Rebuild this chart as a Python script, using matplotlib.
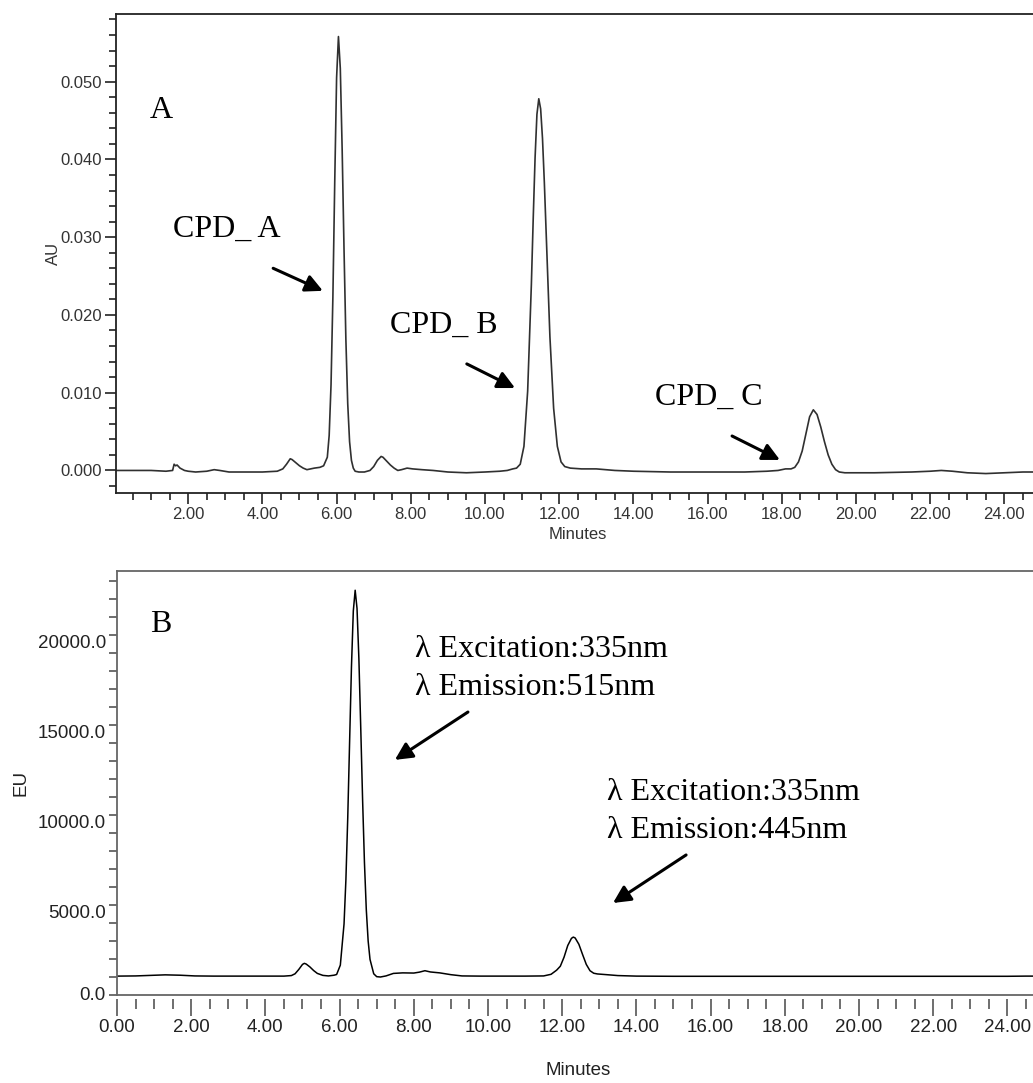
import matplotlib
matplotlib.use("Agg")
import matplotlib.pyplot as plt
from matplotlib.ticker import MultipleLocator, FormatStrFormatter

plt.rcParams["font.family"] = ["Liberation Sans", "DejaVu Sans"]

# --- panel A: UV trace (minutes, AU) ---
t_uv = [0.05, 0.5, 1.0, 1.4, 1.58, 1.62, 1.66, 1.7, 1.78, 1.9, 2.0, 2.2, 2.5, 2.7,
        2.85, 3.1, 3.5, 4.0, 4.4, 4.55, 4.65, 4.75, 4.8, 4.9, 5.0, 5.1, 5.2, 5.3,
        5.4, 5.55, 5.65, 5.75, 5.8, 5.85, 5.9, 5.95, 6.0, 6.05, 6.1, 6.15, 6.2,
        6.25, 6.3, 6.35, 6.4, 6.45, 6.5, 6.6, 6.75, 6.9, 7.0, 7.1, 7.2, 7.25,
        7.35, 7.45, 7.55, 7.65, 7.75, 7.9, 8.05, 8.3, 8.6, 9.0, 9.5, 10.0, 10.4,
        10.6, 10.75, 10.85, 10.95, 11.05, 11.15, 11.25, 11.3, 11.35, 11.4, 11.45,
        11.5, 11.55, 11.6, 11.65, 11.75, 11.85, 11.95, 12.05, 12.15, 12.3, 12.6,
        13.0, 13.5, 14.0, 15.0, 16.0, 17.0, 17.6, 17.9, 18.1, 18.25, 18.35,
        18.45, 18.55, 18.65, 18.75, 18.85, 18.95, 19.05, 19.15, 19.25, 19.35,
        19.45, 19.55, 19.7, 20.5, 21.5, 22.0, 22.3, 22.6, 23.0, 23.5, 24.0,
        24.5, 24.96]
au = [0.0000, 0.0000, 0.0000, -0.0001, 0.0000, 0.0008, 0.0006, 0.0007, 0.0003,
      0.0000, -0.0001, -0.0002, -0.0001, 0.0001, 0.0000, -0.0002, -0.0002,
      -0.0002, -0.0001, 0.0002, 0.0008, 0.0015, 0.0014, 0.0010, 0.0006, 0.0003,
      0.0001, 0.0002, 0.0003, 0.0004, 0.0006, 0.0017, 0.0045, 0.0110, 0.0223,
      0.0371, 0.0505, 0.0558, 0.0517, 0.0413, 0.0285, 0.0169, 0.0086, 0.0037,
      0.0013, 0.0003, -0.0001, -0.0002, -0.0002, 0.0000, 0.0005, 0.0013,
      0.0018, 0.0017, 0.0012, 0.0007, 0.0003, 0.0000, 0.0001, 0.0003, 0.0002,
      0.0001, 0.0000, -0.0002, -0.0003, -0.0002, -0.0001, 0.0000, 0.0002,
      0.0003, 0.0008, 0.0031, 0.0102, 0.0239, 0.0324, 0.0402, 0.0458, 0.0478,
      0.0465, 0.0427, 0.0370, 0.0304, 0.0172, 0.0080, 0.0031, 0.0011, 0.0005,
      0.0003, 0.0002, 0.0002, 0.0000, -0.0001, -0.0002, -0.0002, -0.0002,
      -0.0001, 0.0000, 0.0002, 0.0002, 0.0004, 0.0011, 0.0025, 0.0047, 0.0069,
      0.0078, 0.0072, 0.0056, 0.0037, 0.0020, 0.0008, 0.0001, -0.0002, -0.0003,
      -0.0003, -0.0002, -0.0001, 0.0000, -0.0001, -0.0003, -0.0004, -0.0003,
      -0.0002, -0.0002]

# --- panel B: fluorescence trace (minutes, EU) ---
t_fl = [0.0, 0.5, 0.9, 1.3, 1.7, 2.1, 2.6, 3.5, 4.5, 4.7, 4.8, 4.9, 5.0, 5.05,
        5.1, 5.2, 5.3, 5.4, 5.55, 5.7, 5.85, 5.92, 6.02, 6.12, 6.17, 6.22, 6.27,
        6.32, 6.37, 6.42, 6.47, 6.52, 6.57, 6.62, 6.67, 6.72, 6.77, 6.82, 6.92,
        7.0, 7.1, 7.25, 7.45, 7.7, 8.0, 8.15, 8.3, 8.45, 8.7, 9.0, 9.3, 9.8,
        11.0, 11.5, 11.7, 11.85, 11.95, 12.05, 12.15, 12.25, 12.3, 12.35, 12.45,
        12.55, 12.65, 12.75, 12.85, 12.95, 13.2, 13.5, 14.0, 15.0, 16.0, 20.0,
        24.0, 24.5, 24.88]
eu = [1050, 1060, 1090, 1120, 1100, 1060, 1050, 1050, 1050, 1080, 1180, 1420,
      1700, 1760, 1720, 1560, 1360, 1200, 1090, 1060, 1100, 1140, 1660, 3950,
      6400, 9870, 14070, 18240, 21350, 22500, 21490, 18700, 14880, 10870, 7370,
      4740, 3000, 1980, 1180, 1020, 1000, 1060, 1200, 1230, 1220, 1270, 1350,
      1280, 1230, 1130, 1060, 1050, 1050, 1060, 1150, 1380, 1600, 2100, 2750,
      3150, 3220, 3170, 2820, 2250, 1700, 1350, 1210, 1170, 1130, 1080, 1050,
      1040, 1040, 1040, 1040, 1050, 1050]

fl_yticks = [0, 5000, 10000, 15000, 20000]
fl_yticklabels = ["0.0", "5000.0", "10000.0", "15000.0", "20000.0"]

W, H = 1033, 1083
fig = plt.figure(figsize=(W / 100, H / 100), dpi=100)

serif = ["Liberation Serif", "DejaVu Serif"]
arrow = dict(arrowstyle="-|>", mutation_scale=26, lw=2.2, color="black",
             shrinkA=0, shrinkB=0)

# ---------------- panel A ----------------
ax1 = fig.add_axes([116 / W, 1 - 493 / H, (1040 - 116) / W, (493 - 14) / H])
ax1.plot(t_uv, au, color="#303030", lw=1.2)
ax1.set_xlim(0.054, 24.96)
ax1.set_ylim(-0.0029, 0.0587)
ax1.xaxis.set_major_locator(MultipleLocator(2))
ax1.xaxis.set_minor_locator(MultipleLocator(0.5))
ax1.xaxis.set_major_formatter(FormatStrFormatter("%.2f"))
ax1.yaxis.set_major_locator(MultipleLocator(0.01))
ax1.yaxis.set_minor_locator(MultipleLocator(0.002))
ax1.yaxis.set_major_formatter(FormatStrFormatter("%.3f"))
ax1.tick_params(which="both", direction="out", color="#222222", width=1.2,
                labelsize=12, labelcolor="#333333", pad=2)
ax1.tick_params(which="major", length=8)
ax1.tick_params(which="minor", length=5)
for s in ax1.spines.values():
    s.set_color("#222222")
    s.set_linewidth(1.3)
ax1.set_xlabel("Minutes", fontsize=12, color="#333333", labelpad=4)
ax1.set_ylabel("AU", fontsize=12, color="#333333", labelpad=0)

ax1.text(0.97, 0.0453, "A", family=serif, fontsize=23)
ax1.text(1.59, 0.0300, "CPD_ A", family=serif, fontsize=23)
ax1.annotate("", xy=(5.63, 0.0231), xytext=(4.29, 0.0260), arrowprops=arrow)
ax1.text(7.44, 0.0177, "CPD_ B", family=serif, fontsize=23)
ax1.annotate("", xy=(10.81, 0.0106), xytext=(9.51, 0.0137), arrowprops=arrow)
ax1.text(14.58, 0.0084, "CPD_ C", family=serif, fontsize=23)
ax1.annotate("", xy=(17.95, 0.00135), xytext=(16.66, 0.00443), arrowprops=arrow)

# ---------------- panel B ----------------
ax2 = fig.add_axes([117 / W, 1 - 995 / H, (1040 - 117) / W, (995 - 571) / H])
ax2.plot(t_fl, eu, color="black", lw=1.1)
ax2.set_xlim(0, 24.88)
ax2.set_ylim(0, 23570)
ax2.xaxis.set_major_locator(MultipleLocator(2))
ax2.xaxis.set_minor_locator(MultipleLocator(0.5))
ax2.xaxis.set_major_formatter(FormatStrFormatter("%.2f"))
ax2.set_yticks(fl_yticks)
ax2.set_yticklabels(fl_yticklabels, va="top")
ax2.get_yticklabels()[0].set_va("center")
ax2.yaxis.set_minor_locator(MultipleLocator(1000))
ax2.tick_params(which="both", direction="out", color="#555555", width=1.2,
                labelsize=13.5, labelcolor="#222222", pad=2)
ax2.tick_params(axis="y", which="both", length=6)
ax2.tick_params(axis="x", which="major", length=12)
ax2.tick_params(axis="x", which="minor", length=7)
for s in ax2.spines.values():
    s.set_color("#666666")
    s.set_linewidth(1.3)
# ticks sit a little below the frame line
ax2.spines["bottom"].set_position(("outward", 3))
ax2.spines["bottom"].set_visible(False)
ax2.axhline(0, color="#666666", lw=1.3, clip_on=False)
ax2.set_xlabel("Minutes", fontsize=13.5, color="#222222", labelpad=19)
ax2.set_ylabel("EU", fontsize=13.5, color="#222222", labelpad=6)

ax2.text(0.89, 20180, "B", family=serif, fontsize=23)
ax2.text(8.03, 18790, "\u03bb Excitation:335nm", family=serif, fontsize=23)
ax2.text(8.03, 16680, "\u03bb Emission:515nm", family=serif, fontsize=23)
ax2.annotate("", xy=(7.49, 13070), xytext=(9.46, 15730), arrowprops=arrow)
ax2.text(13.21, 10840, "\u03bb Excitation:335nm", family=serif, fontsize=23)
ax2.text(13.21, 8730, "\u03bb Emission:445nm", family=serif, fontsize=23)
ax2.annotate("", xy=(13.37, 5115), xytext=(15.34, 7784), arrowprops=arrow)

fig.savefig("out.png", dpi=100)
